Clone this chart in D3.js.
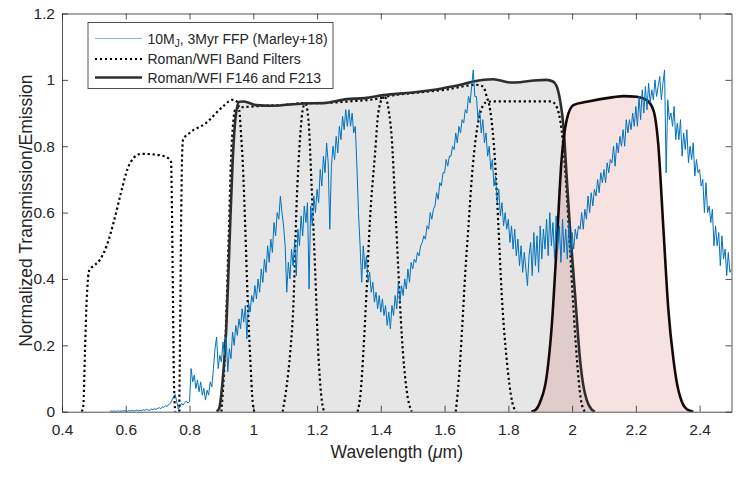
<!DOCTYPE html>
<html>
<head>
<meta charset="utf-8">
<script src="https://cdn.jsdelivr.net/npm/d3@7"></script>
<style>
  body { margin: 0; background: #fff; }
  svg { display: block; font-family: "Liberation Sans", Arial, Helvetica, sans-serif; }
</style>
</head>
<body>
<svg id="chart" width="747" height="485"></svg>
<script>
const xTicks = [0.4, 0.6, 0.8, 1, 1.2, 1.4, 1.6, 1.8, 2, 2.2, 2.4];
const xTickLabels = ["0.4", "0.6", "0.8", "1", "1.2", "1.4", "1.6", "1.8", "2", "2.2", "2.4"];
const yTicks = [0, 0.2, 0.4, 0.6, 0.8, 1, 1.2];
const yTickLabels = ["0", "0.2", "0.4", "0.6", "0.8", "1", "1.2"];

// model spectrum, sampled every 0.005 um starting at 0.55 um
const specStart = 0.55;
const specStep = 0.005;
const specFlux = [
  0.001, 0.002, 0.001, 0.002, 0.001, 0.003, 0.001, 0.002, 0.002, 0.003,
  0.002, 0.001, 0.003, 0.002, 0.004, 0.002, 0.003, 0.005, 0.002, 0.004, 0.003, 0.006, 0.004, 0.007, 0.005, 0.004, 0.008, 0.006, 0.009, 0.007,
  0.010, 0.012, 0.009, 0.015, 0.013, 0.018, 0.016, 0.022, 0.025, 0.035, 0.045, 0.052, 0.030, 0.008, 0.015, 0.025, 0.020, 0.028, 0.032, 0.026,
  0.03, 0.13, 0.09, 0.11, 0.07, 0.095, 0.06, 0.09, 0.05, 0.07, 0.035, 0.065, 0.05, 0.09, 0.075, 0.13, 0.19, 0.225, 0.13, 0.17,
  0.15, 0.21, 0.17, 0.225, 0.12, 0.19, 0.16, 0.24, 0.2, 0.26, 0.23, 0.28, 0.25, 0.31, 0.27, 0.32, 0.22, 0.33, 0.3, 0.35,
  0.33, 0.38, 0.34, 0.4, 0.36, 0.43, 0.39, 0.46, 0.42, 0.5, 0.45, 0.52, 0.48, 0.57, 0.53, 0.6, 0.58, 0.65, 0.6, 0.56,
  0.5, 0.36, 0.45, 0.4, 0.49, 0.44, 0.52, 0.41, 0.55, 0.5, 0.59, 0.53, 0.62, 0.57, 0.63, 0.37, 0.62, 0.56, 0.65, 0.6,
  0.67, 0.63, 0.73, 0.68, 0.77, 0.72, 0.81, 0.75, 0.55, 0.74, 0.8, 0.76, 0.83, 0.78, 0.86, 0.82, 0.89, 0.85, 0.91, 0.86,
  0.91, 0.86, 0.9, 0.84, 0.86, 0.74, 0.6, 0.5, 0.39, 0.5, 0.43, 0.47, 0.39, 0.42, 0.36, 0.39, 0.33, 0.36, 0.31, 0.35,
  0.3, 0.34, 0.29, 0.32, 0.26, 0.3, 0.25, 0.32, 0.29, 0.35, 0.31, 0.39, 0.33, 0.38, 0.35, 0.4, 0.37, 0.43, 0.39, 0.45,
  0.43, 0.46, 0.45, 0.48, 0.47, 0.5, 0.51, 0.53, 0.52, 0.56, 0.55, 0.6, 0.58, 0.61, 0.62, 0.66, 0.64, 0.69, 0.68, 0.72,
  0.72, 0.76, 0.74, 0.77, 0.77, 0.8, 0.79, 0.84, 0.81, 0.86, 0.84, 0.88, 0.87, 0.91, 0.9, 0.95, 0.93, 0.98, 1.03, 0.95,
  0.95, 0.88, 0.91, 0.84, 0.88, 0.81, 0.84, 0.77, 0.8, 0.73, 0.76, 0.68, 0.71, 0.63, 0.67, 0.59, 0.63, 0.56, 0.6, 0.55,
  0.58, 0.51, 0.56, 0.49, 0.55, 0.47, 0.52, 0.44, 0.5, 0.42, 0.48, 0.43, 0.38, 0.47, 0.51, 0.41, 0.54, 0.44, 0.53, 0.42,
  0.56, 0.46, 0.55, 0.49, 0.58, 0.47, 0.6, 0.5, 0.57, 0.46, 0.59, 0.49, 0.56, 0.45, 0.58, 0.48, 0.55, 0.46, 0.57, 0.47,
  0.54, 0.49, 0.55, 0.52, 0.56, 0.55, 0.6, 0.55, 0.61, 0.58, 0.65, 0.6, 0.66, 0.62, 0.67, 0.65, 0.7, 0.66, 0.72, 0.69,
  0.73, 0.69, 0.75, 0.72, 0.76, 0.75, 0.8, 0.74, 0.81, 0.78, 0.83, 0.8, 0.85, 0.8, 0.88, 0.84, 0.88, 0.85, 0.9, 0.86,
  0.92, 0.86, 0.95, 0.88, 0.97, 0.9, 0.98, 0.91, 0.99, 0.93, 0.97, 0.94, 1.0, 0.95, 0.98, 1.01, 0.94, 0.99, 1.03, 0.72,
  0.94, 0.88, 0.9, 0.86, 0.92, 0.82, 0.87, 0.82, 0.88, 0.77, 0.84, 0.79, 0.85, 0.75, 0.8, 0.76, 0.81, 0.71, 0.76, 0.72,
  0.73, 0.68, 0.7, 0.6, 0.69, 0.6, 0.62, 0.57, 0.61, 0.5, 0.56, 0.5, 0.54, 0.44, 0.53, 0.46, 0.49, 0.41, 0.48, 0.42,
  0.43
];

// Roman/WFI band filters (dotted)
const f062Wave = [0.462, 0.467, 0.472, 0.478, 0.486, 0.5, 0.517, 0.54, 0.564, 0.585, 0.606, 0.625, 0.648, 0.69, 0.726, 0.742, 0.745, 0.748, 0.751, 0.755];
const f062Trans = [0, 0.02, 0.18, 0.35, 0.427, 0.44, 0.455, 0.5, 0.578, 0.66, 0.733, 0.765, 0.777, 0.775, 0.768, 0.753, 0.6, 0.35, 0.1, 0];
const f087Wave = [0.768, 0.771, 0.774, 0.777, 0.78, 0.8, 0.852, 0.904, 0.935, 0.948, 0.956, 0.962, 0.967, 0.975, 0.982, 0.99, 0.998, 1.003];
const f087Trans = [0, 0.3, 0.6, 0.78, 0.82, 0.84, 0.87, 0.919, 0.94, 0.935, 0.909, 0.83, 0.75, 0.55, 0.347, 0.17, 0.03, 0];
const f106Wave = [0.9, 0.912, 0.922, 0.932, 0.945, 1.0, 1.1, 1.163, 1.173, 1.183, 1.194, 1.204, 1.213, 1.222];
const f106Trans = [0, 0.2, 0.5, 0.8, 0.915, 0.92, 0.925, 0.93, 0.879, 0.678, 0.427, 0.176, 0.05, 0];
const f129Wave = [1.092, 1.105, 1.116, 1.126, 1.136, 1.147, 1.157, 1.165, 1.2, 1.3, 1.4, 1.412, 1.418, 1.426, 1.434, 1.445, 1.455, 1.466, 1.481, 1.497];
const f129Trans = [0, 0.08, 0.18, 0.327, 0.628, 0.829, 0.919, 0.93, 0.93, 0.935, 0.945, 0.948, 0.94, 0.9, 0.829, 0.628, 0.427, 0.226, 0.065, 0];
const f158Wave = [1.327, 1.337, 1.345, 1.356, 1.366, 1.382, 1.392, 1.406, 1.42, 1.5, 1.6, 1.7, 1.721, 1.732, 1.743, 1.758, 1.769, 1.779, 1.795, 1.812, 1.825];
const f158Trans = [0, 0.06, 0.176, 0.377, 0.578, 0.779, 0.9, 0.945, 0.95, 0.96, 0.97, 0.985, 0.98, 0.95, 0.909, 0.759, 0.558, 0.357, 0.156, 0.03, 0];
const f184Wave = [1.635, 1.645, 1.655, 1.665, 1.675, 1.685, 1.7, 1.715, 1.73, 1.75, 1.8, 1.9, 1.935, 1.948, 1.958, 1.967, 1.975, 1.983, 1.993, 2.003, 2.015, 2.027, 2.04];
const f184Trans = [0, 0.1, 0.25, 0.42, 0.56, 0.7, 0.84, 0.91, 0.932, 0.935, 0.935, 0.935, 0.935, 0.925, 0.9, 0.85, 0.77, 0.66, 0.5, 0.33, 0.16, 0.04, 0];

// Roman/WFI F146 and F213 (solid, filled)
const f146Wave = [0.885, 0.893, 0.904, 0.915, 0.925, 0.935, 0.946, 0.956, 0.97, 1.008, 1.06, 1.157, 1.22, 1.293, 1.35, 1.408, 1.5, 1.596, 1.65, 1.69, 1.753, 1.805, 1.837, 1.88, 1.92, 1.94, 1.952, 1.962, 1.973, 1.983, 1.993, 2.009, 2.025, 2.035, 2.046, 2.06, 2.072];
const f146Trans = [0, 0.01, 0.095, 0.246, 0.497, 0.749, 0.9, 0.934, 0.935, 0.924, 0.922, 0.929, 0.93, 0.942, 0.945, 0.954, 0.962, 0.975, 0.985, 0.995, 1.002, 0.992, 0.993, 0.998, 1.0, 0.995, 0.98, 0.94, 0.859, 0.708, 0.558, 0.357, 0.156, 0.08, 0.035, 0.008, 0];
const f213Wave = [1.872, 1.885, 1.9, 1.92, 1.936, 1.952, 1.967, 1.983, 2.004, 2.046, 2.13, 2.161, 2.203, 2.234, 2.255, 2.27, 2.286, 2.302, 2.318, 2.33, 2.339, 2.355, 2.372, 2.38];
const f213Trans = [0, 0.005, 0.03, 0.105, 0.256, 0.507, 0.759, 0.879, 0.924, 0.934, 0.948, 0.951, 0.949, 0.939, 0.909, 0.809, 0.558, 0.307, 0.156, 0.08, 0.045, 0.012, 0.002, 0];

const legendLabels = ["Roman/WFI Band Filters", "Roman/WFI F146 and F213"];

const INK = "#262626";
const BLUE = "#0072bd";

const width = 747, height = 485;
const margin = { top: 13.5, right: 15.5, bottom: 73.3, left: 62 };
const svg = d3.select("#chart");

const x = d3.scaleLinear().domain([0.4, 2.5]).range([margin.left, width - margin.right]);
const y = d3.scaleLinear().domain([0, 1.2]).range([height - margin.bottom, margin.top]);

const zip = (w, t) => w.map((d, i) => [d, t[i]]);
const spectrum = specFlux.map((v, i) => [specStart + i * specStep, v]);

const line = d3.line().x((d) => x(d[0])).y((d) => y(d[1])).curve(d3.curveMonotoneX);
const area = d3.area().x((d) => x(d[0])).y0(y(0)).y1((d) => y(d[1])).curve(d3.curveMonotoneX);
const rawLine = d3.line().x((d) => x(d[0])).y((d) => y(d[1]));

const plot = svg.append("g");
const clipId = "plot-clip";
svg.append("defs").append("clipPath").attr("id", clipId)
  .append("rect")
  .attr("x", margin.left).attr("y", margin.top)
  .attr("width", width - margin.left - margin.right)
  .attr("height", height - margin.top - margin.bottom);
plot.attr("clip-path", `url(#${clipId})`);

// filled wide filters
plot.append("path").attr("d", area(zip(f146Wave, f146Trans)))
  .attr("fill", "rgb(128,128,128)").attr("fill-opacity", 0.2);
plot.append("path").attr("d", area(zip(f213Wave, f213Trans)))
  .attr("fill", "rgb(200,60,60)").attr("fill-opacity", 0.15);

// dotted band filters
const bands = [
  zip(f062Wave, f062Trans), zip(f087Wave, f087Trans), zip(f106Wave, f106Trans),
  zip(f129Wave, f129Trans), zip(f158Wave, f158Trans), zip(f184Wave, f184Trans),
];
plot.selectAll("path.band").data(bands).join("path")
  .attr("class", "band")
  .attr("d", line)
  .attr("fill", "none")
  .attr("stroke", "#000")
  .attr("stroke-width", 2.2)
  .attr("stroke-dasharray", "2.2,2.8");

// solid outlines
plot.append("path").attr("d", line(zip(f146Wave, f146Trans)))
  .attr("fill", "none").attr("stroke", "#2e2e2e").attr("stroke-width", 2.6);
plot.append("path").attr("d", line(zip(f213Wave, f213Trans)))
  .attr("fill", "none").attr("stroke", "#140a0a").attr("stroke-width", 2.6);

// spectrum
plot.append("path").attr("d", rawLine(spectrum))
  .attr("fill", "none").attr("stroke", BLUE).attr("stroke-width", 1)
  .attr("stroke-linejoin", "round");

// axes, MATLAB style: box with inward ticks
const tickLen = 6;
const styleAxis = (g) => {
  g.selectAll(".domain").attr("stroke", INK).attr("stroke-width", 0.8);
  g.selectAll(".tick line").attr("stroke", INK).attr("stroke-width", 0.8);
  g.selectAll("text").attr("fill", INK).attr("font-size", 15.5)
    .attr("font-family", "'Liberation Sans', Arial, sans-serif");
};

svg.append("g").attr("transform", `translate(0,${y(0)})`)
  .call(d3.axisBottom(x).tickValues(xTicks).tickFormat((d, i) => xTickLabels[i])
    .tickSizeInner(-tickLen).tickSizeOuter(0).tickPadding(12))
  .call(styleAxis);
svg.append("g").attr("transform", `translate(0,${y(1.2)})`)
  .call(d3.axisTop(x).tickValues(xTicks).tickFormat("")
    .tickSizeInner(-tickLen).tickSizeOuter(0))
  .call(styleAxis);
svg.append("g").attr("transform", `translate(${x(0.4)},0)`)
  .call(d3.axisLeft(y).tickValues(yTicks).tickFormat((d, i) => yTickLabels[i])
    .tickSizeInner(-tickLen).tickSizeOuter(0).tickPadding(7))
  .call(styleAxis);
svg.append("g").attr("transform", `translate(${x(2.5)},0)`)
  .call(d3.axisRight(y).tickValues(yTicks).tickFormat("")
    .tickSizeInner(-tickLen).tickSizeOuter(0))
  .call(styleAxis);

// axis titles
const xTitle = svg.append("text")
  .attr("x", (x(0.4) + x(2.5)) / 2).attr("y", 458)
  .attr("text-anchor", "middle").attr("font-size", 17.5).attr("fill", INK);
xTitle.append("tspan").text("Wavelength (");
xTitle.append("tspan").attr("font-style", "italic").text("\u03bc");
xTitle.append("tspan").text("m)");

svg.append("text")
  .attr("transform", `translate(32,${(y(0) + y(1.2)) / 2 - 2}) rotate(-90)`)
  .attr("text-anchor", "middle").attr("font-size", 17.5).attr("fill", INK)
  .text("Normalized Transmission/Emission");

// legend
const lg = svg.append("g");
lg.append("rect").attr("x", 88).attr("y", 22.5).attr("width", 245).attr("height", 66)
  .attr("fill", "#fff").attr("stroke", INK).attr("stroke-width", 0.8);
const rowY = [38.5, 59, 77.5];
const sx0 = 95, sx1 = 142, tx = 147.5;
lg.append("line").attr("x1", sx0).attr("x2", sx1).attr("y1", rowY[0]).attr("y2", rowY[0])
  .attr("stroke", BLUE).attr("stroke-opacity", 0.5).attr("stroke-width", 1.2);
lg.append("line").attr("x1", sx0).attr("x2", sx1).attr("y1", rowY[1]).attr("y2", rowY[1])
  .attr("stroke", "#000").attr("stroke-width", 2).attr("stroke-dasharray", "2,3");
lg.append("line").attr("x1", sx0).attr("x2", sx1).attr("y1", rowY[2]).attr("y2", rowY[2])
  .attr("stroke", "#2e2e2e").attr("stroke-width", 2.6);

const t0 = lg.append("text").attr("x", tx).attr("y", rowY[0] + 5)
  .attr("font-size", 14).attr("fill", INK);
t0.append("tspan").text("10M");
t0.append("tspan").attr("font-size", 10).attr("dy", 3).text("J");
t0.append("tspan").attr("dy", -3).text(", 3Myr FFP (Marley+18)");
legendLabels.forEach((label, i) => {
  lg.append("text").attr("x", tx).attr("y", rowY[i + 1] + 5)
    .attr("font-size", 14).attr("fill", INK).text(label);
});
</script>
</body>
</html>
